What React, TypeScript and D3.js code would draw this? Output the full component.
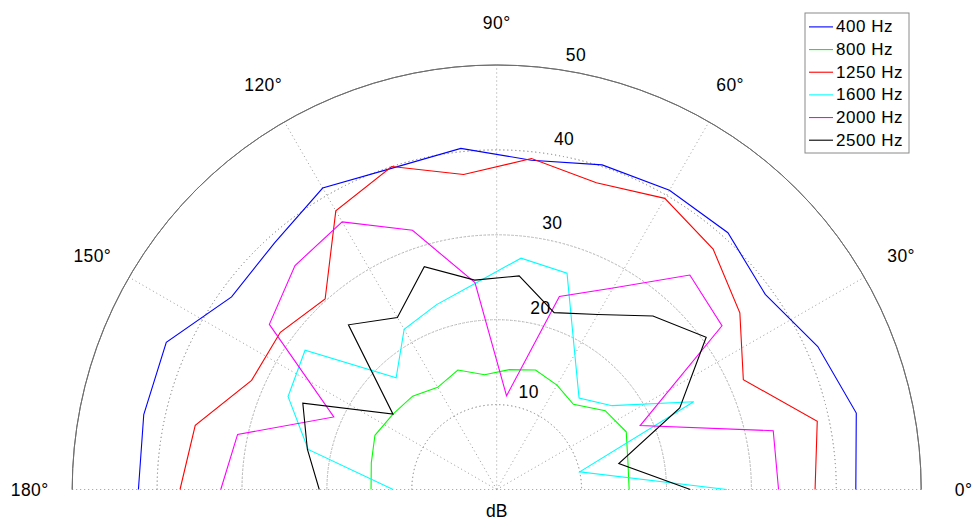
import React from "react";
import * as d3 from "d3";

const angles = [0, 12, 24, 36, 48, 60, 72, 84, 96, 108, 120, 132, 144, 156, 168, 180];
const s400 = [42.3, 43.3, 41.4, 39.1, 40.7, 40.7, 40.2, 39.0, 40.4, 39.8, 41.0, 39.1, 38.6, 42.6, 42.5, 42.2];
const s800 = [15.6, 15.8, 16.7, 15.8, 13.5, 14.2, 14.8, 14.2, 13.6, 14.8, 13.9, 14.8, 15.1, 15.7, 15.1, 14.8];
const s1250 = [37.5, 38.6, 31.8, 35.4, 38.1, 39.6, 38.0, 39.2, 37.3, 40.0, 37.9, 30.2, 31.5, 31.6, 36.3, 37.3];
const s1600 = [27.1, 10.0, 25.4, 16.8, 14.5, 18.4, 26.8, 27.4, 24.4, 22.9, 21.8, 17.7, 27.9, 26.9, 22.7, 12.2];
const s2000 = [33.2, 33.3, 18.5, 32.8, 34.0, 27.4, 23.9, 11.1, 24.5, 32.1, 36.4, 35.5, 33.1, 21.0, 31.2, 32.5];
const s2500 = [22.8, 14.7, 23.6, 30.5, 27.5, 23.8, 21.9, 25.3, 24.8, 27.6, 23.4, 26.1, 15.1, 25.0, 22.8, 20.9];

const seriesNames = ["400 Hz", "800 Hz", "1250 Hz", "1600 Hz", "2000 Hz", "2500 Hz"];
const seriesValues = [s400, s800, s1250, s1600, s2000, s2500];
const seriesColors = ["#0000ff", "#00ff00", "#ff0000", "#00ffff", "#ff00ff", "#000000"];

const radialTicks = [10, 20, 30, 40, 50];
const angleTicks = [0, 30, 60, 90, 120, 150, 180];

const W = 973;
const H = 521;
const cx = 496.7;
const cy = 489.5;
const R = 424.5;
const FONT = "'Liberation Sans', Arial, Helvetica, sans-serif";
const FS = 17.5;

export default function App() {
  const r = d3.scaleLinear().domain([0, 50]).range([0, R]);
  const toRad = (deg: number) => (deg * Math.PI) / 180;
  const line = d3
    .lineRadial<[number, number]>()
    .angle((d) => Math.PI / 2 - toRad(d[0]))
    .radius((d) => r(d[1]))
    .curve(d3.curveLinear);

  const halfArc = (rad: number) =>
    d3.arc()({ innerRadius: rad, outerRadius: rad, startAngle: -Math.PI / 2, endAngle: Math.PI / 2 }) as string;

  const c82 = Math.cos(toRad(82));
  const s82 = Math.sin(toRad(82));
  const rinc = r(10);

  const legendX = 805;
  const legendY = 13;
  const legendW = 104;
  const legendH = 140;
  const rowY = d3.scaleLinear().domain([0, 5]).range([26.9, 140.2]);

  return (
    <div style={{ position: "absolute", left: 0, top: 0 }}>
      <svg width={W} height={H} style={{ display: "block", background: "#fff" }}>
        <g transform={`translate(${cx},${cy})`}>
          {radialTicks.slice(0, -1).map((t) => (
            <path key={"ring" + t} d={halfArc(r(t))} fill="none" stroke="#9a9a9a" strokeWidth={1} strokeDasharray="1,3" />
          ))}
          {angleTicks.slice(1, -1).map((a) => (
            <line
              key={"sp" + a}
              x1={0}
              y1={0}
              x2={R * Math.cos(toRad(a))}
              y2={-R * Math.sin(toRad(a))}
              stroke="#9a9a9a"
              strokeWidth={1}
              strokeDasharray="1,3"
            />
          ))}
          <line x1={-R} y1={0} x2={R} y2={0} stroke="#9a9a9a" strokeWidth={1} strokeDasharray="1,3" />
          <path d={halfArc(R)} fill="none" stroke="#6e6e6e" strokeWidth={1} />
          {radialTicks.map((t) => (
            <text
              key={"rl" + t}
              x={(r(t) + rinc / 20) * c82 + 9.4}
              y={-(r(t) + rinc / 20) * s82 - 3.6}
              fontFamily={FONT}
              fontSize={FS}
              letterSpacing={0.4}
              fill="#000"
            >
              {t}
            </text>
          ))}
          {angleTicks.map((a) => (
            <text
              key={"al" + a}
              x={1.1 * R * Math.cos(toRad(a))}
              y={-1.1 * R * Math.sin(toRad(a))}
              textAnchor="middle"
              dominantBaseline="central"
              fontFamily={FONT}
              fontSize={FS}
              letterSpacing={0.4}
              fill="#000"
            >
              {a + "°"}
            </text>
          ))}
          {seriesValues.map((vals, i) => (
            <path
              key={seriesNames[i]}
              d={line(angles.map((a, j) => [a, vals[j]]) as [number, number][]) as string}
              fill="none"
              stroke={seriesColors[i]}
              strokeWidth={1.1}
              strokeLinejoin="miter"
            />
          ))}
        </g>
        <text x={cx} y={511} textAnchor="middle" dominantBaseline="central" fontFamily={FONT} fontSize={FS} fill="#000">
          dB
        </text>
        <rect x={legendX} y={legendY} width={legendW} height={legendH} fill="#fff" stroke="#8a8a8a" strokeWidth={1} />
        {seriesNames.map((n, i) => (
          <g key={"lg" + n}>
            <line x1={809} x2={833} y1={rowY(i)} y2={rowY(i)} stroke={seriesColors[i]} strokeWidth={1.1} />
            <text x={836} y={rowY(i)} dominantBaseline="central" fontFamily={FONT} fontSize={17} letterSpacing={0.55} fill="#000">
              {n}
            </text>
          </g>
        ))}
      </svg>
    </div>
  );
}
